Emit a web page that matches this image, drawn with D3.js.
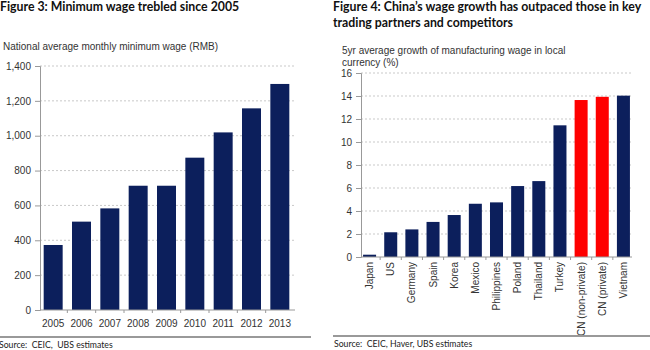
<!DOCTYPE html>
<html><head><meta charset="utf-8">
<script src="https://cdn.jsdelivr.net/npm/d3@7"></script>
<style>
body{margin:0;background:#fff;}
svg{display:block;}
text{font-family:"Liberation Sans",Arial,sans-serif;}
.title{font-family:Lato,"Open Sans",sans-serif;font-weight:bold;font-size:12.3px;fill:#111;}
.src{font-family:Lato,"Open Sans",sans-serif;font-size:8.7px;fill:#222;white-space:pre;}
</style></head><body>
<script>
const years = ["2005","2006","2007","2008","2009","2010","2011","2012","2013"];
const minWage = [373, 507, 583, 713, 713, 874, 1019, 1157, 1297];
const leftTicks = [0,200,400,600,800,1000,1200,1400];

const countries = ["Japan","US","Germany","Spain","Korea","Mexico","Philippines","Poland","Thailand","Turkey","CN (non-private)","CN (private)","Vietnam"];
const growth = [0.2, 2.15, 2.4, 3.05, 3.65, 4.63, 4.75, 6.17, 6.6, 11.45, 13.65, 13.93, 14.03];
const highlight = ["CN (non-private)","CN (private)"];
const rightTicks = [0,2,4,6,8,10,12,14,16];

const navy = "#0c1f5c", red = "#ff0000";
const svg = d3.select("body").append("svg").attr("width",650).attr("height",350);

function panel(opts){
  const g = svg.append("g");
  const x = d3.scaleBand().domain(opts.cats).range(opts.xr).paddingInner(opts.pi).paddingOuter(opts.pi/2);
  const y = d3.scaleLinear().domain(opts.yd).range(opts.yr);
  g.selectAll(".grid").data(opts.ticks.filter(d=>d>0)).enter().append("line")
    .attr("x1",opts.axisX).attr("x2",opts.gridEnd)
    .attr("y1",d=>y(d)).attr("y2",d=>y(d))
    .attr("stroke","#bbb").attr("stroke-width",0.8).attr("stroke-dasharray","2,2");
  g.selectAll(".bar").data(opts.cats).enter().append("rect")
    .attr("x",d=>x(d)).attr("width",x.bandwidth())
    .attr("y",(d,i)=>y(opts.vals[i])).attr("height",(d,i)=>y(0)-y(opts.vals[i]))
    .attr("fill",d=>opts.hl.includes(d)?red:navy);
  const ya = d3.axisLeft(y).tickValues(opts.ticks).tickSize(5).tickPadding(4).tickFormat(opts.fmt);
  const yg = g.append("g").attr("transform",`translate(${opts.axisX},0)`).call(ya);
  yg.select(".domain").attr("stroke","#999");
  yg.selectAll(".tick line").attr("stroke","#999");
  yg.selectAll("text").attr("font-size","10px").attr("fill","#333");
  g.append("line").attr("x1",opts.axisX).attr("x2",opts.gridEnd)
    .attr("y1",y(0)).attr("y2",y(0)).attr("stroke","#999");
  const step = x.step();
  g.selectAll(".xt").data(opts.cats.slice(1)).enter().append("line")
    .attr("x1",d=>x(d)-step*opts.pi/2).attr("x2",d=>x(d)-step*opts.pi/2)
    .attr("y1",y(0)).attr("y2",y(0)+3).attr("stroke","#999");
  return {g,x,y};
}

const L = panel({cats:years, vals:minWage, hl:[], xr:[39,294], pi:0.33, yd:[0,1400], yr:[310,66],
  ticks:leftTicks, axisX:40, gridEnd:295, fmt:d3.format(",")});
L.g.selectAll(".xl").data(years).enter().append("text")
  .attr("x",d=>L.x(d)+L.x.bandwidth()/2).attr("y",327)
  .attr("text-anchor","middle").attr("font-size","10px").attr("fill","#333").text(d=>d);

const R = panel({cats:countries, vals:growth, hl:highlight, xr:[359,634], pi:0.385, yd:[0,16], yr:[257,73],
  ticks:rightTicks, axisX:361, gridEnd:632, fmt:d3.format("d")});
R.g.selectAll(".xl").data(countries).enter().append("text")
  .attr("transform",d=>`translate(${R.x(d)+R.x.bandwidth()/2+3.5},262) rotate(-90)`)
  .attr("text-anchor","end").attr("font-size","10px").attr("fill","#333").text(d=>d);

svg.append("text").attr("class","title").attr("x",0).attr("y",11).text("Figure 3: Minimum wage trebled since 2005");
svg.append("text").attr("class","title").attr("x",333).attr("y",11).text("Figure 4: China\u2019s wage growth has outpaced those in key");
svg.append("text").attr("class","title").attr("x",333).attr("y",27).text("trading partners and competitors");

svg.append("text").attr("x",3).attr("y",50).attr("font-size","10px").attr("fill","#333").text("National average monthly minimum wage (RMB)");
svg.append("text").attr("x",342).attr("y",54).attr("font-size","10px").attr("fill","#333").text("5yr average growth of manufacturing wage in local");
svg.append("text").attr("x",342).attr("y",66).attr("font-size","10px").attr("fill","#333").text("currency (%)");

svg.append("line").attr("x1",0).attr("x2",311).attr("y1",337).attr("y2",337).attr("stroke","#999").attr("stroke-width",2);
svg.append("line").attr("x1",333).attr("x2",650).attr("y1",336).attr("y2",336).attr("stroke","#999").attr("stroke-width",2);
svg.append("text").attr("class","src").attr("x",-1).attr("y",348).text("Source:  CEIC,  UBS estimates");
svg.append("text").attr("class","src").attr("x",334).attr("y",347).text("Source:  CEIC, Haver, UBS estimates");
</script>
</body></html>
